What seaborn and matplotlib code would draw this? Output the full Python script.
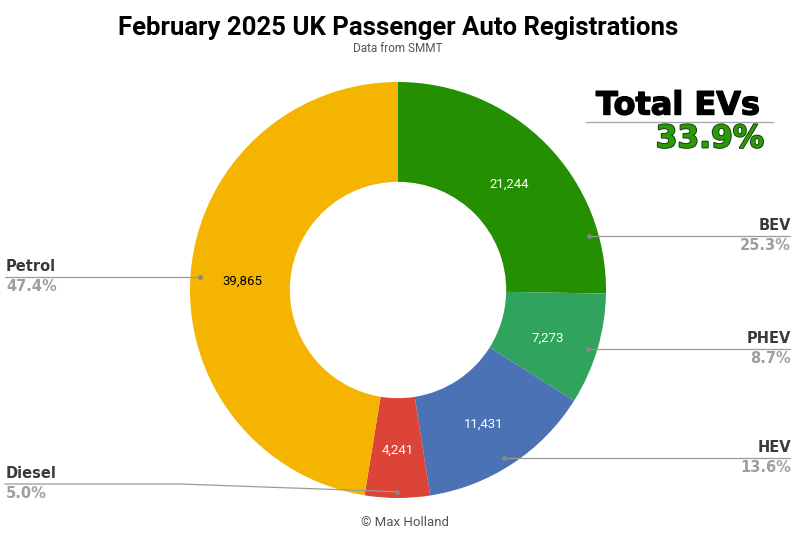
import numpy as np
import matplotlib
matplotlib.use("Agg")
import matplotlib.pyplot as plt
import matplotlib.patheffects as pe
import seaborn as sns

categories = ["BEV", "PHEV", "HEV", "Diesel", "Petrol"]
registrations = [21244, 7273, 11431, 4241, 39865]
share_labels = ["25.3%", "8.7%", "13.6%", "5.0%", "47.4%"]
colors = ["#248f00", "#30a35e", "#4a72b4", "#db4437", "#f4b400"]
value_text_colors = ["white", "white", "white", "white", "black"]
title = "February 2025 UK Passenger Auto Registrations"
subtitle = "Data from SMMT"
ev_title = "Total EVs"
ev_share = "33.9%"
credit = "© Max Holland"

sns.set_theme(style="white")
plt.rcParams['font.family'] = ['Roboto', 'DejaVu Sans']

W, H = 800, 548
CX, CY, R = 398, 290, 208
fig = plt.figure(figsize=(W / 100, H / 100), dpi=100)
ax = fig.add_axes([0, 0, 1, 1])

def px(x, y):
    return (x - CX) / R, (CY - y) / R

total = sum(registrations)
wedges, texts, autotexts = ax.pie(
    registrations, colors=colors, startangle=90, counterclock=False,
    radius=1, wedgeprops=dict(width=0.48, edgecolor="none"),
    autopct=lambda p: f"{round(p * total / 100):,}", pctdistance=0.75,
    textprops=dict(fontsize=9.5))
for t, c in zip(autotexts, value_text_colors):
    t.set_color(c)
    x, y = t.get_position()
    t.set_position((x, y - 4 / R))

ax.set_xlim((0 - CX) / R, (W - CX) / R)
ax.set_ylim((CY - H) / R, CY / R)
ax.set_aspect("equal")
ax.axis("off")

# label lines: pixel y of each leader line and side
line_y = {"BEV": 236, "PHEV": 349, "HEV": 458, "Diesel": 484, "Petrol": 277}
side = {"BEV": 1, "PHEV": 1, "HEV": 1, "Diesel": -1, "Petrol": -1}
line_col = "#9a9a9a"
for w, cat, pct in zip(wedges, categories, share_labels):
    t1, t2 = w.theta1, w.theta2
    if t1 > t2:
        t1, t2 = t2, t1
    ly = px(0, line_y[cat])[1]
    s = side[cat]
    rr = 0.955
    sy = ly / rr
    ang = None
    if abs(sy) <= 1:
        a = np.degrees(np.arcsin(sy))
        cand = a if s > 0 else 180 - a
        for c in (cand, cand + 360, cand - 360):
            if t1 <= c <= t2:
                ang = c
    if ang is None:
        ang = (t1 + t2) / 2
    rd = rr if abs(np.sin(np.radians(ang)) * rr - ly) < 1e-6 else 0.97
    dx, dy = rd * np.cos(np.radians(ang)), rd * np.sin(np.radians(ang))
    ax.plot([dx], [dy], "o", ms=2.5, color="#888888", zorder=5)
    xe = px(790 if s > 0 else 5, 0)[0]
    if abs(dy - ly) < 1e-6:
        ax.plot([dx, xe], [dy, ly], color=line_col, lw=0.9, zorder=4)
    else:
        xm = px(180, 0)[0]
        ax.plot([xe, xm, dx], [ly, ly, dy], color=line_col, lw=0.9, zorder=4)
    ha = "right" if s > 0 else "left"
    xt = px(791 if s > 0 else 6, 0)[0]
    ax.text(xt, ly + 3 / R, cat, ha=ha, va="bottom", fontsize=10.5,
            fontweight="heavy", color="#3a3a3a", family="DejaVu Sans")
    ax.text(xt, ly - 2 / R, pct, ha=ha, va="top", fontsize=10.5,
            fontweight="heavy", color="#9e9e9e", family="DejaVu Sans")

fig.text(398 / W, 1 - 28 / H, title, ha="center", va="center",
         fontsize=18.5, fontweight="bold", color="black")
fig.text(398 / W, 1 - 49 / H, subtitle, ha="center", va="center",
         fontsize=8.5, color="#555555")
fig.text(405 / W, 1 - 523 / H, credit, ha="center", va="center",
         fontsize=9.5, color="#555555")

fig.text(678 / W, 1 - 106 / H, ev_title, ha="center", va="center",
         fontsize=23, fontweight="heavy", color="black", family="DejaVu Sans",
         path_effects=[pe.withStroke(linewidth=1.0, foreground="black")])
fig.add_artist(plt.Line2D([586 / W, 773 / W], [1 - 122 / H, 1 - 122 / H],
                          color="#aaaaaa", lw=1))
fig.text(710 / W, 1 - 139 / H, ev_share, ha="center", va="center",
         fontsize=22.5, fontweight="heavy", color="#2a9a0a", family="DejaVu Sans",
         path_effects=[pe.withStroke(linewidth=1.3, foreground="#123d05")])

fig.savefig("out.png", dpi=100)
